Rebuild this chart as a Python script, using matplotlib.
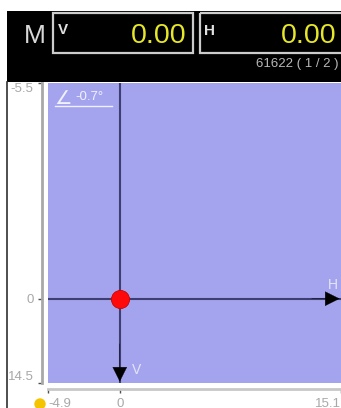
import matplotlib
matplotlib.use("Agg")
import matplotlib.pyplot as plt
from matplotlib.patches import Rectangle, Circle

plt.rcParams['font.family'] = ['Liberation Sans', 'DejaVu Sans']

# readouts
v_value = 0.00
h_value = 0.00
point_id = "61622 ( 1 / 2 )"
angle_text = "-0.7°"

# axis ranges / tick labels as shown
x_ticks = [-4.9, 0, 15.1]
x_labels = ['-4.9', '0', '15.1']
y_ticks = [-5.5, 0, 2.15]
y_labels = ['-5.5', '0', '14.5']

# measured point
pt_h = [0.0]
pt_v = [0.0]

W, H = 341, 408
fig = plt.figure(figsize=(W / 100, H / 100), dpi=100)
fig.patch.set_facecolor('white')

def px(x0, y0, w, h):
    return [x0 / W, 1 - (y0 + h) / H, w / W, h / H]

# main plot area
ax = fig.add_axes(px(48, 83, 293, 300))
ax.set_facecolor('#A4A4EE')
ax.set_xlim(x_ticks[0], x_ticks[-1])
ax.set_ylim(y_ticks[-1], y_ticks[0])

line_c = '#3E3E72'
ax.axvline(0, color=line_c, lw=1.5, zorder=2)
ax.axhline(0, color=line_c, lw=1.5, zorder=2)
# arrow heads only (shaft drawn thin underneath)
head = dict(arrowstyle='-|>,head_length=1.0,head_width=0.5',
            color='black', lw=0.3, shrinkA=0, shrinkB=1)
ax.annotate('', xy=(0, y_ticks[-1]), xytext=(0, y_ticks[-1] - 1), arrowprops=head)
ax.annotate('', xy=(x_ticks[-1], 0), xytext=(x_ticks[-1] - 2, 0), arrowprops=head)
ax.scatter(pt_h, pt_v, s=170, color='#FF0A0A', edgecolors='#D00000',
           linewidths=0.6, zorder=5)

ax.spines['top'].set_visible(False)
ax.spines['right'].set_visible(False)
ax.spines['left'].set_position(('outward', 4))
ax.spines['left'].set_color('#A8A8A8')
ax.spines['left'].set_linewidth(2)
ax.spines['bottom'].set_position(('outward', 4))
ax.spines['bottom'].set_color('#C8C8C8')
ax.spines['bottom'].set_linewidth(2)

ax.set_xticks(x_ticks)
ax.set_xticklabels(x_labels)
ax.set_yticks(y_ticks)
ax.set_yticklabels(y_labels)
ax.tick_params(colors='#505050', labelcolor='#A8A8A8', labelsize=9.5,
               length=3, width=1)
xl = ax.get_xticklabels()
xl[0].set_ha('left')
xl[-1].set_ha('right')
yl = ax.get_yticklabels()
yl[0].set_va('top')
yl[-1].set_va('bottom')

# overlay in pixel coordinates
ov = fig.add_axes([0, 0, 1, 1])
ov.set_xlim(0, W)
ov.set_ylim(H, 0)
ov.axis('off')

ov.add_patch(Rectangle((7, 11), W - 7, 71, color='black', lw=0))
ov.plot([7, 7], [82, H], color='#303030', lw=1.2)
ov.text(35, 36, 'M', color='#D8D8D8', fontsize=19, ha='center', va='center')
ov.add_patch(Rectangle((53, 13), 140, 40, fill=False, ec='#CCCCCC', lw=1.6))
ov.add_patch(Rectangle((200, 13), 146, 40, fill=False, ec='#CCCCCC', lw=1.6))
ov.text(58, 30, 'V', color='#E0E0E0', fontsize=11, fontweight='bold',
        ha='left', va='center')
ov.text(204, 31, 'H', color='#E0E0E0', fontsize=11, fontweight='bold',
        ha='left', va='center')
ov.text(187, 36, f'{v_value:.2f}', color='#E6E62A', fontsize=20.5,
        ha='right', va='center')
ov.text(336, 36, f'{h_value:.2f}', color='#E6E62A', fontsize=20.5,
        ha='right', va='center')
ov.text(339, 64, point_id, color='#B8B8B8', fontsize=9.5,
        ha='right', va='center')

ov.text(54, 99, '∠', color='#F0F0FF', fontsize=14, ha='left', va='center',
        family='DejaVu Sans')
ov.text(75, 97, angle_text, color='#F0F0FF', fontsize=9.5, ha='left',
        va='center')
ov.plot([55, 112], [106, 106], color='#F0F0FF', lw=1)

ov.text(132, 370, 'V', color='#E4E4F8', fontsize=10, ha='left', va='center')
ov.text(333, 285, 'H', color='#E4E4F8', fontsize=10, ha='center',
        va='center')

ov.add_patch(Circle((40, 404), 5, color='#F5C400'))

fig.savefig('out.png', dpi=100)
